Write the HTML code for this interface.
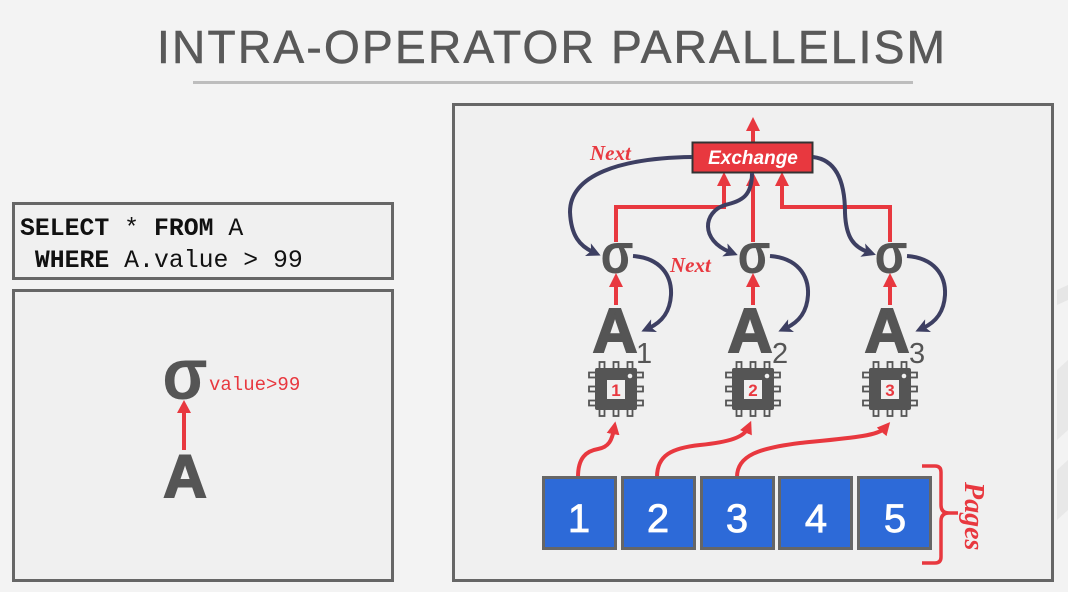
<!DOCTYPE html>
<html><head><meta charset="utf-8"><style>
html,body{margin:0;padding:0;background:#f3f3f3;}
svg{display:block;}
</style></head><body>
<svg width="1068" height="592" viewBox="0 0 1068 592" xmlns="http://www.w3.org/2000/svg">
<defs>
<marker id="rh" viewBox="0 0 10 10" refX="4" refY="5" markerUnits="userSpaceOnUse" markerWidth="13" markerHeight="13" orient="auto"><path d="M0,0 L10,5 L0,10 z" fill="#e8383f"/></marker>
<marker id="nh" viewBox="0 0 10 10" refX="4" refY="5" markerUnits="userSpaceOnUse" markerWidth="14" markerHeight="14" orient="auto"><path d="M0,0 L10,5 L0,10 L2.5,5 z" fill="#3d3f62"/></marker>
</defs>
<rect x="0" y="0" width="1068" height="592" fill="#f3f3f3"/>
<!-- faint background shapes -->
<path d="M1057,290 L1068,285 L1068,300 L1057,305 z" fill="#e6e6e6"/>
<path d="M1057,370 L1068,360 L1068,430 L1057,440 z" fill="#e8e8e8"/>
<path d="M1057,470 L1068,460 L1068,510 L1057,520 z" fill="#e8e8e8"/>

<!-- Title -->
<text x="157" y="63" font-family="Liberation Sans Narrow, Liberation Sans, sans-serif" font-size="46" fill="#595959" stroke="#595959" stroke-width="0.6" textLength="788" lengthAdjust="spacing">INTRA-OPERATOR PARALLELISM</text>
<rect x="193" y="81" width="720" height="3" fill="#bdbdbd"/>

<!-- SQL box -->
<rect x="13.5" y="203.5" width="379" height="75" fill="#f0f0f0" stroke="#666" stroke-width="3"/>
<text x="20" y="235" font-family="Liberation Mono, monospace" font-size="24.8" fill="#111"><tspan font-weight="bold">SELECT</tspan> * <tspan font-weight="bold">FROM</tspan> A</text>
<text x="20" y="267" font-family="Liberation Mono, monospace" font-size="24.8" fill="#111" xml:space="preserve"> <tspan font-weight="bold">WHERE</tspan> A.value &gt; 99</text>

<!-- Left plan box -->
<rect x="13.5" y="290.5" width="379" height="290" fill="#f0f0f0" stroke="#666" stroke-width="3"/>
<text transform="translate(185,399) scale(1,1.1)" x="0" y="0" text-anchor="middle" font-family="Liberation Sans, sans-serif" font-weight="bold" font-size="66" fill="#555">σ</text>
<text x="209" y="390" font-family="Liberation Mono, monospace" font-size="19" fill="#e8383f">value&gt;99</text>
<line x1="184" y1="450" x2="184" y2="410" stroke="#e8383f" stroke-width="4"/>
<polygon points="184,400 177,413 191,413" fill="#e8383f"/>
<text x="185" y="497" text-anchor="middle" font-family="Liberation Sans, sans-serif" font-weight="bold" font-size="60" fill="#555" stroke="#555" stroke-width="2">A</text>

<!-- Right box -->
<rect x="453.5" y="104.5" width="599" height="476" fill="#f0f0f0" stroke="#666" stroke-width="3"/>

<!-- top arrow -->
<line x1="753" y1="142" x2="753" y2="128" stroke="#e8383f" stroke-width="4"/>
<polygon points="753,117 746,131 760,131" fill="#e8383f"/>

<!-- red tree lines to exchange -->
<g stroke="#e8383f" stroke-width="4" fill="none">
<path d="M616,242 L616,207 L724,207 L724,182"/>
<path d="M753,242 L753,182"/>
<path d="M890,242 L890,207 L782,207 L782,182"/>
</g>
<g fill="#e8383f">
<polygon points="724,172 717,186 731,186"/>
<polygon points="753,172 746,186 760,186"/>
<polygon points="782,172 775,186 789,186"/>
</g>

<!-- Exchange box -->
<rect x="692.5" y="142.5" width="120" height="30" fill="#e8383f" stroke="#333" stroke-width="2"/>
<text x="753" y="164" text-anchor="middle" font-family="Liberation Sans, sans-serif" font-weight="bold" font-style="italic" font-size="19" fill="#fff">Exchange</text>

<!-- Next labels -->
<text x="590" y="160" font-family="Liberation Serif, serif" font-weight="bold" font-style="italic" font-size="21" fill="#e8383f">Next</text>
<text x="670" y="272" font-family="Liberation Serif, serif" font-weight="bold" font-style="italic" font-size="21" fill="#e8383f">Next</text>

<!-- navy curves -->
<g stroke="#3d3f62" stroke-width="4" fill="none" marker-end="url(#nh)">
<path d="M692,157 C620,158 570,175 570,212 C571,236 580,246 593,252"/>
<path d="M752,173 C752,196 742,201 725,205 C703,212 700,240 730,252"/>
<path d="M813,157 C838,160 845,185 845,213 C846,238 854,247 868,252"/>
<path d="M633,256 C660,258 672,275 671,295 C670,312 662,322 649,328"/>
<path d="M770,256 C797,258 809,275 808,295 C807,312 799,322 786,328"/>
<path d="M907,256 C934,258 946,275 945,295 C944,312 936,322 923,328"/>
</g>

<!-- sigmas -->
<g font-family="Liberation Sans, sans-serif" font-weight="bold" font-size="48" fill="#555" text-anchor="middle">
<text transform="translate(617,273) scale(1,1.18)" x="0" y="0">σ</text>
<text transform="translate(754,273) scale(1,1.18)" x="0" y="0">σ</text>
<text transform="translate(891,273) scale(1,1.18)" x="0" y="0">σ</text>
</g>

<!-- red arrows A->sigma -->
<g stroke="#e8383f" stroke-width="4">
<line x1="616" y1="305" x2="616" y2="283"/>
<line x1="753" y1="305" x2="753" y2="283"/>
<line x1="890" y1="305" x2="890" y2="283"/>
</g>
<g fill="#e8383f">
<polygon points="616,273 609,287 623,287"/>
<polygon points="753,273 746,287 760,287"/>
<polygon points="890,273 883,287 897,287"/>
</g>

<!-- A nodes -->
<g font-family="Liberation Sans, sans-serif" font-weight="bold" font-size="62" fill="#555" stroke="#555" stroke-width="2" text-anchor="middle">
<text x="615" y="352">A</text>
<text x="750" y="352">A</text>
<text x="887" y="352">A</text>
</g>
<g font-family="Liberation Sans, sans-serif" font-size="29" fill="#555">
<text x="636" y="363">1</text>
<text x="772" y="363">2</text>
<text x="909" y="363">3</text>
</g>

<!-- chips -->
<g transform="translate(616,389)">
<g fill="#f0f0f0" stroke="#555" stroke-width="1.8">
<rect x="-16.5" y="-27" width="5" height="9"/><rect x="-2.5" y="-27" width="5" height="9"/><rect x="11.5" y="-27" width="5" height="9"/>
<rect x="-16.5" y="18" width="5" height="9"/><rect x="-2.5" y="18" width="5" height="9"/><rect x="11.5" y="18" width="5" height="9"/>
<rect x="-27" y="-16.5" width="9" height="5"/><rect x="-27" y="-2.5" width="9" height="5"/><rect x="-27" y="11.5" width="9" height="5"/>
<rect x="18" y="-16.5" width="9" height="5"/><rect x="18" y="-2.5" width="9" height="5"/><rect x="18" y="11.5" width="9" height="5"/>
</g>
<rect x="-21" y="-21" width="42" height="42" rx="2" fill="#555"/>
<rect x="-9" y="-9" width="18" height="19" fill="#f0f0f0"/>
<circle cx="14" cy="-13" r="2.3" fill="#f0f0f0"/>
<text x="0" y="7" text-anchor="middle" font-family="Liberation Sans, sans-serif" font-weight="bold" font-size="17" fill="#e8383f">1</text>
</g>
<g transform="translate(753,389)">
<g fill="#f0f0f0" stroke="#555" stroke-width="1.8">
<rect x="-16.5" y="-27" width="5" height="9"/><rect x="-2.5" y="-27" width="5" height="9"/><rect x="11.5" y="-27" width="5" height="9"/>
<rect x="-16.5" y="18" width="5" height="9"/><rect x="-2.5" y="18" width="5" height="9"/><rect x="11.5" y="18" width="5" height="9"/>
<rect x="-27" y="-16.5" width="9" height="5"/><rect x="-27" y="-2.5" width="9" height="5"/><rect x="-27" y="11.5" width="9" height="5"/>
<rect x="18" y="-16.5" width="9" height="5"/><rect x="18" y="-2.5" width="9" height="5"/><rect x="18" y="11.5" width="9" height="5"/>
</g>
<rect x="-21" y="-21" width="42" height="42" rx="2" fill="#555"/>
<rect x="-9" y="-9" width="18" height="19" fill="#f0f0f0"/>
<circle cx="14" cy="-13" r="2.3" fill="#f0f0f0"/>
<text x="0" y="7" text-anchor="middle" font-family="Liberation Sans, sans-serif" font-weight="bold" font-size="17" fill="#e8383f">2</text>
</g>
<g transform="translate(890,389)">
<g fill="#f0f0f0" stroke="#555" stroke-width="1.8">
<rect x="-16.5" y="-27" width="5" height="9"/><rect x="-2.5" y="-27" width="5" height="9"/><rect x="11.5" y="-27" width="5" height="9"/>
<rect x="-16.5" y="18" width="5" height="9"/><rect x="-2.5" y="18" width="5" height="9"/><rect x="11.5" y="18" width="5" height="9"/>
<rect x="-27" y="-16.5" width="9" height="5"/><rect x="-27" y="-2.5" width="9" height="5"/><rect x="-27" y="11.5" width="9" height="5"/>
<rect x="18" y="-16.5" width="9" height="5"/><rect x="18" y="-2.5" width="9" height="5"/><rect x="18" y="11.5" width="9" height="5"/>
</g>
<rect x="-21" y="-21" width="42" height="42" rx="2" fill="#555"/>
<rect x="-9" y="-9" width="18" height="19" fill="#f0f0f0"/>
<circle cx="14" cy="-13" r="2.3" fill="#f0f0f0"/>
<text x="0" y="7" text-anchor="middle" font-family="Liberation Sans, sans-serif" font-weight="bold" font-size="17" fill="#e8383f">3</text>
</g>

<!-- red curves pages -> chips -->
<g stroke="#e8383f" stroke-width="4" fill="none" marker-end="url(#rh)">
<path d="M578,477 C578,458 586,451 598,449 C609,447 612,440 614,429"/>
<path d="M657,477 C657,455 672,448 700,445 C730,442 744,437 748,428"/>
<path d="M737,477 C737,455 760,448 800,443 C850,438 878,436 885,428"/>
</g>

<!-- pages -->
<g stroke="#666" stroke-width="3" fill="#2d6ad8">
<rect x="543.5" y="477.5" width="72" height="71"/>
<rect x="622.5" y="477.5" width="72" height="71"/>
<rect x="701.5" y="477.5" width="72" height="71"/>
<rect x="779.5" y="477.5" width="72" height="71"/>
<rect x="858.5" y="477.5" width="72" height="71"/>
</g>
<g font-family="Liberation Sans, sans-serif" font-size="40" fill="#fff" stroke="#fff" stroke-width="0.8" text-anchor="middle">
<text x="579" y="532">1</text>
<text x="658" y="532">2</text>
<text x="737" y="532">3</text>
<text x="816" y="532">4</text>
<text x="895" y="532">5</text>
</g>

<!-- bracket -->
<path d="M922,466 L935,466 Q941,466 941,472 L941,505 Q941,513 949,513 L958,513 M949,513 Q941,513 941,521 L941,557 Q941,563 935,563 L922,563" stroke="#e8383f" stroke-width="3.5" fill="none"/>
<text transform="translate(965,482) rotate(90)" font-family="Liberation Serif, serif" font-weight="bold" font-style="italic" font-size="28" fill="#e8383f">Pages</text>
</svg>
</body></html>
